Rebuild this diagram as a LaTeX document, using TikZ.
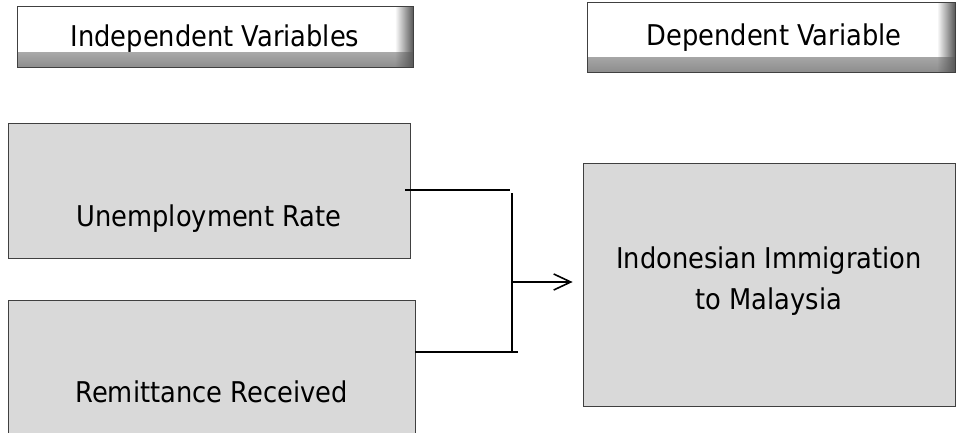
\documentclass[tikz,border=0pt]{standalone}
\usepackage{fontspec}
\setmainfont{DejaVu Sans Condensed}
\usetikzlibrary{positioning,fadings,calc,arrows.meta}
\definecolor{boxgray}{RGB}{217,217,217}
\definecolor{edgegray}{RGB}{64,64,64}
\begin{document}
\begin{tikzpicture}[x=1pt,y=-1pt,
  every node/.style={font=\fontsize{28.6}{41}\selectfont},
  hdr/.style={draw=edgegray,line width=1pt,fill=white,inner sep=0pt,
    path picture={
      \fill[black!45,path fading=north] ([yshift=16pt]path picture bounding box.south west) rectangle (path picture bounding box.south east);
      \fill[black!65,path fading=west] ([xshift=-18pt]path picture bounding box.north east) rectangle (path picture bounding box.south east);}},
  blk/.style={draw=edgegray,line width=0.8pt,fill=boxgray,inner sep=0pt},
  lbl/.style={inner sep=0pt,text height=21pt,text depth=6pt},
  conn/.style={line width=1.6pt}]
\useasboundingbox (0,0) rectangle (958,433);
%
\node[hdr,minimum width=396pt,minimum height=61pt] (ivHead) at (215,37.5) {};
\node[hdr,minimum width=368pt,minimum height=70pt] (dvHead) at (771,38) {};
\node[lbl] (ivText) at ([yshift=-1.9pt]ivHead.center) {Independent Variables};
\node[lbl] (dvHeadText) at ([xshift=3pt]dvHead.center) {Dependent Variable};
%
\node[blk,minimum width=402pt,minimum height=135pt] (unemp) at (209,190.5) {};
\node[blk,minimum width=407pt,minimum height=145pt] (remit) at (211.5,372.5) {};
\node[blk,minimum width=372pt,minimum height=243pt] (dv) at (769,284.5) {};
\node[lbl] (unempText) at ([yshift=-28.5pt]unemp.center) {Unemployment Rate};
\node[lbl] (remitText) at ([yshift=-22.5pt]remit.center) {Remittance Received};
\node[inner sep=0pt,align=center] (dvText) at ([yshift=3pt]dv.center) {Indonesian Immigration\\to Malaysia};
%
\coordinate (topEnd) at (510,190);
\coordinate (busTop) at (512,193);
\coordinate (busBot) at (512,351);
\coordinate (botEnd) at (518,352);
\coordinate (busMid) at (512,282);
%
\draw[conn] ($(unemp.east |- topEnd)+(-5,0)$) -- (topEnd);
\draw[conn] (busTop) -- (busBot);
\draw[conn] (remit.east |- botEnd) -- (botEnd);
\draw[conn,-{Straight Barb[length=17pt,width=16pt]}] (busMid) -- ($(dv.west |- busMid)+(-10,0)$);
%
\end{tikzpicture}
\end{document}
